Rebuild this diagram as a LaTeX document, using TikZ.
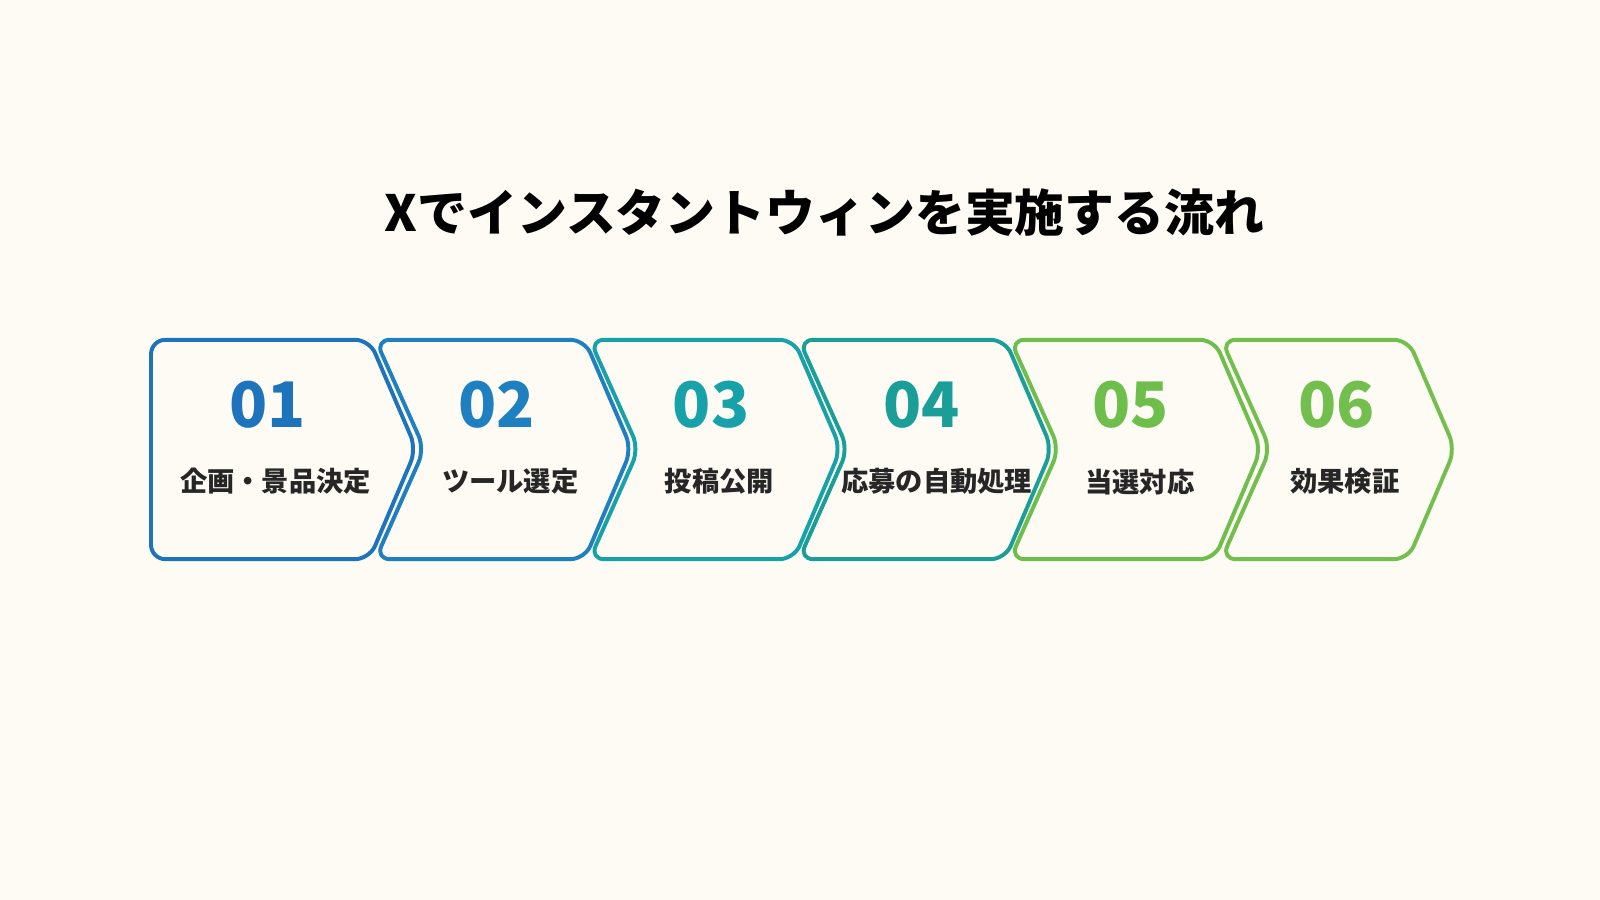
\documentclass[tikz,border=0pt]{standalone}
\usepackage{fontspec}
\setmainfont{Noto Sans CJK JP}
\setsansfont{Noto Sans CJK JP}
\usetikzlibrary{positioning}
\definecolor{bgcol}{HTML}{FDFBF4}
\definecolor{stepA}{HTML}{1E74BC}
\definecolor{stepB}{HTML}{1E80C0}
\definecolor{stepC}{HTML}{16A2A8}
\definecolor{stepD}{HTML}{1A9E98}
\definecolor{stepE}{HTML}{6DBE4B}
\definecolor{stepF}{HTML}{72BF4E}
\tikzset{step box/.style={line width=1.1pt,rounded corners=4pt,line join=round},
  num label/.style={font=\fontsize{17.5}{20}\selectfont\bfseries},
  step label/.style={font=\fontsize{7.6}{9}\selectfont\bfseries,text=black!85}}

\begin{document}
\begin{tikzpicture}[x=0.01cm,y=-0.01cm]
  \fill[bgcol] (0,0) rectangle (1568,882);
  \useasboundingbox (0,0) rectangle (1568,882);
  \node[font=\fontsize{13.9}{16}\selectfont\bfseries] (title) at (808,208) {Xでインスタントウィンを実施する流れ};

  % first step: flat left side
  \draw[step box,stepA] (148,333) -- (362,333) -- (408,440) -- (362,548) -- (148,548) -- cycle;
  \node[num label,text=stepA] (n1) at (262,397) {01};
  \node[step label] (l1) at (270,472) {企画・景品決定};

  % remaining steps: notched left side
  \foreach \i/\xl/\xr/\col/\nx/\lx/\num/\txt in {
      2/368/573/stepB/487/500/02/ツール選定,
      3/578/778/stepC/697/705/03/投稿公開,
      4/783/985/stepD/903/918/04/応募の自動処理,
      5/990/1190/stepE/1108/1117/05/当選対応,
      6/1197/1380/stepF/1310/1318/06/効果検証} {
    \draw[step box,\col] (\xl,333) -- (\xr,333) -- (\xr+46,440) -- (\xr,548)
      -- (\xl,548) -- (\xl+48,440) -- cycle;
    \node[num label,text=\col] (n\i) at (\nx,397) {\num};
    \node[step label] (l\i) at (\lx,472) {\txt};
  }
\end{tikzpicture}
\end{document}
